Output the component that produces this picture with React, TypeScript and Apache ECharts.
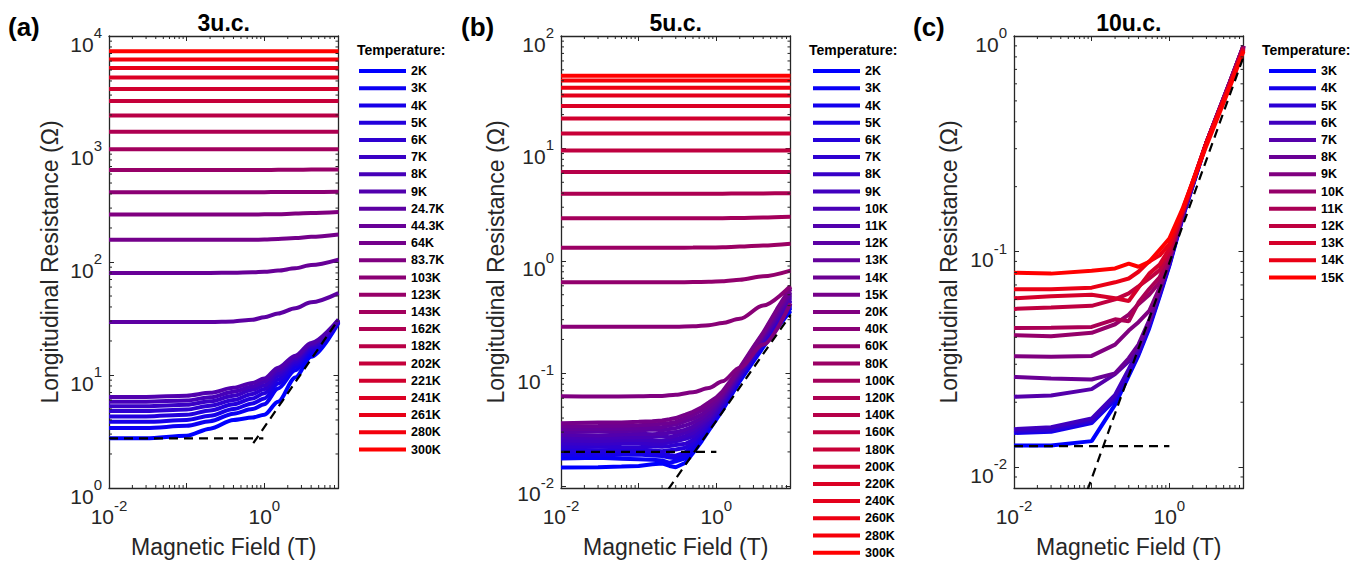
import React, { useEffect, useRef } from 'react';
import * as echarts from 'echarts';

const FONT = '"Liberation Sans", Arial, Helvetica, sans-serif';
const AXIS_COLOR = '#262626';

// ---------- Panel (a) 3u.c. ----------
const fieldA = [0.01, 0.03, 0.1, 0.2, 0.4, 0.7, 1, 1.5, 2.5, 4, 9];
const tempsA = ['2K', '3K', '4K', '5K', '6K', '7K', '8K', '9K', '24.7K', '44.3K', '64K', '83.7K', '103K', '123K', '143K', '162K', '182K', '202K', '221K', '241K', '261K', '280K', '300K'];
const resA = [
  [2.75, 2.75, 2.9, 3.35, 4.0, 4.2, 4.45, 5.8, 9.5, 14.5, 29],
  [3.4, 3.4, 3.55, 3.9, 4.55, 5.0, 5.5, 7.6, 11, 15.5, 29.5],
  [3.85, 3.85, 4.0, 4.35, 5.0, 5.6, 6.2, 8.4, 11.8, 16.3, 30],
  [4.3, 4.3, 4.45, 4.85, 5.5, 6.2, 6.9, 9.1, 12.5, 17, 30],
  [4.8, 4.8, 4.95, 5.35, 6.0, 6.8, 7.5, 9.8, 13.1, 17.6, 30],
  [5.3, 5.3, 5.45, 5.85, 6.55, 7.4, 8.1, 10.4, 13.7, 18.2, 30.5],
  [5.8, 5.8, 5.95, 6.35, 7.1, 7.9, 8.7, 11, 14.2, 18.7, 30.5],
  [6.4, 6.4, 6.55, 6.95, 7.7, 8.5, 9.3, 11.6, 14.8, 19.2, 31],
  [29.4, 29.4, 29.4, 29.5, 29.8, 30.8, 32.5, 35, 39, 44, 53],
  [80, 80, 80, 80, 80.3, 81, 82, 84, 88, 94, 105],
  [157, 157, 157, 157, 157, 157.5, 158, 160, 163, 167, 175],
  [263, 263, 263, 263, 263, 263.5, 264, 265, 268, 271, 277],
  [415, 415, 415, 415, 415, 415, 415, 416, 416, 417, 418],
  [652, 652, 652, 652, 652, 652, 653, 654, 655, 657, 660],
  [993, 993, 993, 993, 993, 993, 993, 993, 993, 993, 993],
  [1420, 1420, 1420, 1420, 1420, 1420, 1420, 1420, 1420, 1420, 1420],
  [1980, 1980, 1980, 1980, 1980, 1980, 1980, 1980, 1980, 1980, 1980],
  [2660, 2660, 2660, 2660, 2660, 2660, 2660, 2660, 2660, 2660, 2660],
  [3400, 3400, 3400, 3400, 3400, 3400, 3400, 3400, 3400, 3400, 3400],
  [4290, 4290, 4290, 4290, 4290, 4290, 4290, 4290, 4290, 4290, 4290],
  [5210, 5210, 5210, 5210, 5210, 5210, 5210, 5210, 5210, 5210, 5210],
  [6210, 6210, 6210, 6210, 6210, 6210, 6210, 6210, 6210, 6210, 6210],
  [7340, 7340, 7340, 7340, 7340, 7340, 7340, 7340, 7340, 7340, 7340],
];
const dashA = [
  { field: [0.01, 0.97], res: [2.75, 2.75] },
  { field: [0.72, 9], res: [2.49, 31] },
];

// ---------- Panel (b) 5u.c. ----------
const tempsB = ['2K', '3K', '4K', '5K', '6K', '7K', '8K', '9K', '10K', '11K', '12K', '13K', '14K', '15K', '20K', '40K', '60K', '80K', '100K', '120K', '140K', '160K', '180K', '200K', '220K', '240K', '260K', '280K', '300K'];
// 2K .. 15K (noisy low-temperature curves)
const fieldBLow = [0.01, 0.03, 0.06, 0.1, 0.15, 0.2, 0.25, 0.3, 0.4, 0.5, 0.65, 0.8, 1, 1.2, 1.6, 2, 3, 4, 6, 9];
const resBLow = [
  [0.0145, 0.0146, 0.0148, 0.015, 0.0155, 0.0158, 0.015, 0.0146, 0.016, 0.0195, 0.025, 0.031, 0.039, 0.047, 0.066, 0.085, 0.128, 0.17, 0.25, 0.36],
  [0.0175, 0.0177, 0.0174, 0.0172, 0.017, 0.0168, 0.016, 0.0165, 0.0175, 0.0205, 0.026, 0.032, 0.04, 0.048, 0.067, 0.087, 0.131, 0.175, 0.26, 0.38],
  [0.0188, 0.0186, 0.0189, 0.019, 0.0186, 0.0184, 0.0178, 0.0176, 0.0185, 0.0215, 0.027, 0.033, 0.041, 0.049, 0.068, 0.089, 0.134, 0.18, 0.265, 0.39],
  [0.0198, 0.0197, 0.0199, 0.02, 0.0195, 0.0192, 0.0188, 0.0185, 0.0198, 0.0225, 0.028, 0.034, 0.042, 0.05, 0.07, 0.09, 0.136, 0.182, 0.27, 0.4],
  [0.021, 0.0207, 0.0209, 0.0211, 0.0206, 0.0203, 0.0207, 0.021, 0.0218, 0.024, 0.029, 0.035, 0.043, 0.051, 0.071, 0.092, 0.139, 0.186, 0.28, 0.41],
  [0.0222, 0.0223, 0.0221, 0.022, 0.0224, 0.0222, 0.0226, 0.023, 0.0236, 0.0255, 0.03, 0.036, 0.044, 0.053, 0.073, 0.094, 0.142, 0.19, 0.285, 0.42],
  [0.0238, 0.0236, 0.0239, 0.024, 0.0235, 0.0236, 0.0244, 0.0248, 0.0262, 0.0275, 0.032, 0.037, 0.045, 0.055, 0.075, 0.096, 0.145, 0.195, 0.295, 0.44],
  [0.0253, 0.025, 0.0254, 0.0256, 0.0252, 0.0251, 0.0258, 0.026, 0.0278, 0.0295, 0.034, 0.039, 0.047, 0.056, 0.077, 0.098, 0.148, 0.2, 0.3, 0.45],
  [0.0268, 0.0266, 0.0268, 0.027, 0.0272, 0.0276, 0.027, 0.028, 0.0298, 0.0315, 0.036, 0.04, 0.049, 0.058, 0.079, 0.1, 0.152, 0.205, 0.31, 0.47],
  [0.0284, 0.028, 0.0286, 0.029, 0.0287, 0.029, 0.0296, 0.03, 0.0315, 0.0335, 0.038, 0.042, 0.051, 0.06, 0.081, 0.103, 0.156, 0.21, 0.32, 0.49],
  [0.03, 0.0304, 0.0306, 0.031, 0.0316, 0.0312, 0.032, 0.0325, 0.0345, 0.0365, 0.04, 0.045, 0.053, 0.062, 0.083, 0.105, 0.16, 0.215, 0.33, 0.51],
  [0.0318, 0.032, 0.0322, 0.0325, 0.0328, 0.0332, 0.0345, 0.035, 0.0375, 0.0395, 0.043, 0.048, 0.055, 0.064, 0.085, 0.108, 0.164, 0.22, 0.345, 0.53],
  [0.0338, 0.034, 0.0342, 0.0345, 0.035, 0.0356, 0.0362, 0.037, 0.04, 0.0425, 0.047, 0.051, 0.058, 0.066, 0.087, 0.11, 0.168, 0.225, 0.36, 0.56],
  [0.036, 0.0365, 0.0366, 0.037, 0.0374, 0.038, 0.039, 0.04, 0.043, 0.0455, 0.05, 0.055, 0.061, 0.069, 0.09, 0.112, 0.172, 0.23, 0.37, 0.58],
];
// 20K .. 300K
const fieldBHigh = [0.01, 0.03, 0.1, 0.2, 0.3, 0.5, 0.8, 1.2, 2, 4, 9];
const resBHigh = [
  [0.0625, 0.0622, 0.0625, 0.063, 0.0645, 0.068, 0.074, 0.085, 0.112, 0.18, 0.42],
  [0.259, 0.259, 0.259, 0.259, 0.26, 0.262, 0.268, 0.28, 0.305, 0.4, 0.6],
  [0.645, 0.645, 0.645, 0.645, 0.646, 0.648, 0.652, 0.66, 0.68, 0.73, 0.82],
  [1.31, 1.31, 1.31, 1.31, 1.31, 1.312, 1.315, 1.32, 1.34, 1.37, 1.42],
  [2.39, 2.39, 2.39, 2.39, 2.39, 2.39, 2.39, 2.4, 2.41, 2.43, 2.47],
  [3.95, 3.95, 3.95, 3.95, 3.95, 3.95, 3.95, 3.96, 3.97, 3.98, 4.0],
  [6.18, 6.18, 6.18, 6.18, 6.18, 6.18, 6.18, 6.18, 6.18, 6.18, 6.18],
  [9.6, 9.6, 9.6, 9.6, 9.6, 9.6, 9.6, 9.6, 9.6, 9.6, 9.6],
  [13.6, 13.6, 13.6, 13.6, 13.6, 13.6, 13.6, 13.6, 13.6, 13.6, 13.6],
  [18.5, 18.5, 18.5, 18.5, 18.5, 18.5, 18.5, 18.5, 18.5, 18.5, 18.5],
  [23.9, 23.9, 23.9, 23.9, 23.9, 23.9, 23.9, 23.9, 23.9, 23.9, 23.9],
  [29.5, 29.5, 29.5, 29.5, 29.5, 29.5, 29.5, 29.5, 29.5, 29.5, 29.5],
  [34.7, 34.7, 34.7, 34.7, 34.7, 34.7, 34.7, 34.7, 34.7, 34.7, 34.7],
  [40.2, 40.2, 40.2, 40.2, 40.2, 40.2, 40.2, 40.2, 40.2, 40.2, 40.2],
  [44.2, 44.2, 44.2, 44.2, 44.2, 44.2, 44.2, 44.2, 44.2, 44.2, 44.2],
];
const dashB = [
  { field: [0.01, 1.0], res: [0.02, 0.02] },
  { field: [0.24, 9], res: [0.0093, 0.33] },
];

// ---------- Panel (c) 10u.c. ----------
const fieldC = [0.01, 0.03, 0.1, 0.2, 0.3, 0.4, 0.55, 0.75, 1, 1.5, 3, 6, 9];
const tempsC = ['3K', '4K', '5K', '6K', '7K', '8K', '9K', '10K', '11K', '12K', '13K', '14K', '15K'];
const resC = [
  [0.0126, 0.0126, 0.0132, 0.0195, 0.0265, 0.033, 0.044, 0.062, 0.086, 0.145, 0.32, 0.6, 0.88],
  [0.0144, 0.0146, 0.016, 0.0205, 0.0272, 0.0335, 0.045, 0.063, 0.087, 0.147, 0.32, 0.6, 0.89],
  [0.0147, 0.0149, 0.0164, 0.021, 0.0278, 0.034, 0.046, 0.064, 0.088, 0.148, 0.32, 0.6, 0.89],
  [0.015, 0.0153, 0.0168, 0.0216, 0.0285, 0.035, 0.0465, 0.065, 0.089, 0.149, 0.32, 0.61, 0.9],
  [0.0212, 0.0215, 0.023, 0.027, 0.031, 0.036, 0.047, 0.066, 0.09, 0.15, 0.32, 0.61, 0.9],
  [0.0262, 0.0258, 0.0255, 0.0272, 0.032, 0.037, 0.048, 0.067, 0.091, 0.151, 0.32, 0.61, 0.9],
  [0.0327, 0.0325, 0.0328, 0.037, 0.043, 0.047, 0.053, 0.068, 0.092, 0.152, 0.32, 0.61, 0.9],
  [0.0409, 0.0405, 0.042, 0.046, 0.051, 0.057, 0.063, 0.072, 0.094, 0.153, 0.32, 0.61, 0.9],
  [0.0442, 0.0443, 0.0447, 0.0485, 0.0475, 0.058, 0.067, 0.076, 0.096, 0.154, 0.32, 0.6, 0.89],
  [0.0542, 0.055, 0.056, 0.06, 0.064, 0.069, 0.075, 0.082, 0.099, 0.155, 0.32, 0.6, 0.88],
  [0.0607, 0.062, 0.063, 0.0607, 0.059, 0.068, 0.079, 0.087, 0.103, 0.156, 0.32, 0.59, 0.87],
  [0.0668, 0.0668, 0.068, 0.072, 0.075, 0.0806, 0.09, 0.096, 0.108, 0.158, 0.32, 0.59, 0.86],
  [0.0797, 0.079, 0.0815, 0.0835, 0.088, 0.085, 0.0896, 0.102, 0.115, 0.16, 0.31, 0.58, 0.85],
];
const dashC = [
  { field: [0.01, 1.0], res: [0.0125, 0.0125] },
  { field: [0.088, 9], res: [0.0078, 0.8] },
];

// ---------- Tick values ----------
const minorTicksX = [0.02, 0.03, 0.04, 0.05, 0.06, 0.07, 0.08, 0.09, 0.2, 0.3, 0.4, 0.5, 0.6, 0.7, 0.8, 0.9, 2, 3, 4, 5, 6, 7, 8];
const minorTicksYA = [2, 3, 4, 5, 6, 7, 8, 9, 20, 30, 40, 50, 60, 70, 80, 90, 200, 300, 400, 500, 600, 700, 800, 900, 2000, 3000, 4000, 5000, 6000, 7000, 8000, 9000];
const minorTicksYB = [0.02, 0.03, 0.04, 0.05, 0.06, 0.07, 0.08, 0.09, 0.2, 0.3, 0.4, 0.5, 0.6, 0.7, 0.8, 0.9, 2, 3, 4, 5, 6, 7, 8, 9, 20, 30, 40, 50, 60, 70, 80, 90];
const minorTicksYC = [0.009, 0.02, 0.03, 0.04, 0.05, 0.06, 0.07, 0.08, 0.09, 0.2, 0.3, 0.4, 0.5, 0.6, 0.7, 0.8, 0.9];

const panels = [
  { key: 'a', tag: '(a)', title: '3u.c.', temps: tempsA, groups: [{ field: fieldA, res: resA, smooth: true }], dash: dashA,
    yMin: 1, yMax: 10000, minorY: minorTicksYA, left: 109, nameGap: 48, legendLeft: 359, tempTitleX: 357, tagX: 8 },
  { key: 'b', tag: '(b)', title: '5u.c.', temps: tempsB, groups: [{ field: fieldBLow, res: resBLow, smooth: false }, { field: fieldBHigh, res: resBHigh, smooth: true }], dash: dashB,
    yMin: 0.00955, yMax: 100, minorY: minorTicksYB, left: 561, nameGap: 54, legendLeft: 813, tempTitleX: 809, tagX: 461 },
  { key: 'c', tag: '(c)', title: '10u.c.', temps: tempsC, groups: [{ field: fieldC, res: resC, smooth: false }], dash: dashC,
    yMin: 0.008, yMax: 1, minorY: minorTicksYC, left: 1014, nameGap: 54, legendLeft: 1269, tempTitleX: 1262, tagX: 913 },
];

const GRID_TOP = 36;
const GRID_W = 229.5;
const GRID_H = 455;

function colorAt(i: number, n: number) {
  const t = n > 1 ? i / (n - 1) : 0;
  return `rgb(${Math.round(255 * t)},0,${Math.round(255 * (1 - t))})`;
}

function expFormatter(onlyEven: boolean) {
  return (v: number) => {
    const e = Math.log10(v);
    const r = Math.round(e);
    if (Math.abs(e - r) > 1e-6) return '';
    if (onlyEven && r % 2 !== 0) return '';
    return `{b|10}{s|${r}}`;
  };
}

const rich = {
  b: { fontSize: 21, lineHeight: 21, fontFamily: FONT, color: AXIS_COLOR, padding: [16, 0, 0, 0] },
  s: { fontSize: 15, lineHeight: 15, fontFamily: FONT, color: AXIS_COLOR, padding: [0, 0, 7, 0] },
};

function buildOption() {
  const grid: any[] = [];
  const xAxis: any[] = [];
  const yAxis: any[] = [];
  const series: any[] = [];
  const legend: any[] = [];
  const graphic: any[] = [];

  const axisLine = { show: true, onZero: false, lineStyle: { color: AXIS_COLOR, width: 1.3 } };
  const axisTick = { show: true, inside: true, length: 5, lineStyle: { color: AXIS_COLOR, width: 1 } };

  panels.forEach((p, pi) => {
    grid.push({ left: p.left, top: GRID_TOP, width: GRID_W, height: GRID_H, containLabel: false });
    xAxis.push({
      gridIndex: pi, type: 'log', logBase: 10, position: 'bottom', min: 0.01, max: 9,
      axisLine, axisTick, splitLine: { show: false },
      axisLabel: { show: true, margin: 10, formatter: expFormatter(true), rich },
      name: 'Magnetic Field (T)', nameLocation: 'middle', nameGap: 47,
      nameTextStyle: { fontFamily: FONT, fontSize: 23, color: AXIS_COLOR },
    });
    xAxis.push({
      gridIndex: pi, type: 'log', logBase: 10, position: 'top', min: 0.01, max: 9,
      axisLine, axisTick, splitLine: { show: false }, axisLabel: { show: false },
    });
    yAxis.push({
      gridIndex: pi, type: 'log', logBase: 10, position: 'left', min: p.yMin, max: p.yMax,
      axisLine, axisTick, splitLine: { show: false },
      axisLabel: { show: true, margin: 7, formatter: expFormatter(false), rich },
      name: 'Longitudinal Resistance (Ω)', nameLocation: 'middle', nameGap: p.nameGap,
      nameTextStyle: { fontFamily: FONT, fontSize: 23, color: AXIS_COLOR },
    });
    yAxis.push({
      gridIndex: pi, type: 'log', logBase: 10, position: 'right', min: p.yMin, max: p.yMax,
      axisLine, axisTick, splitLine: { show: false }, axisLabel: { show: false },
    });

    const xi = 2 * pi;
    let idx = 0;
    p.groups.forEach((g) => {
      g.res.forEach((row) => {
        const i = idx++;
        const t = p.temps[i];
        const c = colorAt(i, p.temps.length);
        series.push({
          type: 'line', name: `${p.key}:${t}`, xAxisIndex: xi, yAxisIndex: xi,
          data: g.field.map((x, k) => [x, row[k]]),
          showSymbol: false, symbol: 'none',
          smooth: g.smooth ? 0.3 : false, smoothMonotone: 'x',
          color: c, itemStyle: { color: c }, lineStyle: { color: c, width: 4 },
          silent: true, z: 2,
        });
      });
    });
    p.dash.forEach((d, di) => {
      series.push({
        type: 'line', name: `${p.key}-guide${di}`, xAxisIndex: xi, yAxisIndex: xi,
        data: d.field.map((x, k) => [x, d.res[k]]),
        showSymbol: false, symbol: 'none', silent: true, z: 3,
        lineStyle: { color: '#000', width: 2.2, type: [9, 6] },
      });
    });
    // minor ticks (MATLAB-style 2..9 per decade), on both opposite edges
    series.push({
      type: 'custom', name: `${p.key}-minorx`, xAxisIndex: xi, yAxisIndex: xi, silent: true, z: 4, clip: false,
      data: minorTicksX.map((v) => [v, p.yMax]),
      renderItem: (params: any, api: any) => {
        const pt = api.coord([api.value(0), api.value(1)]);
        const cs = params.coordSys;
        const st = { stroke: AXIS_COLOR, lineWidth: 1 };
        return {
          type: 'group', children: [
            { type: 'line', shape: { x1: pt[0], y1: cs.y + cs.height, x2: pt[0], y2: cs.y + cs.height - 3 }, style: st },
            { type: 'line', shape: { x1: pt[0], y1: cs.y, x2: pt[0], y2: cs.y + 3 }, style: st },
          ],
        };
      },
    });
    series.push({
      type: 'custom', name: `${p.key}-minory`, xAxisIndex: xi, yAxisIndex: xi, silent: true, z: 4, clip: false,
      data: p.minorY.map((v) => [1, v]),
      renderItem: (params: any, api: any) => {
        const pt = api.coord([api.value(0), api.value(1)]);
        const cs = params.coordSys;
        const st = { stroke: AXIS_COLOR, lineWidth: 1 };
        return {
          type: 'group', children: [
            { type: 'line', shape: { x1: cs.x, y1: pt[1], x2: cs.x + 3, y2: pt[1] }, style: st },
            { type: 'line', shape: { x1: cs.x + cs.width, y1: pt[1], x2: cs.x + cs.width - 3, y2: pt[1] }, style: st },
          ],
        };
      },
    });

    legend.push({
      orient: 'vertical', left: p.legendLeft, top: 64.6, padding: 0, itemGap: 4.2,
      itemWidth: 47, itemHeight: 4, icon: 'rect', selectedMode: false,
      data: p.temps.map((t) => `${p.key}:${t}`),
      formatter: (n: string) => n.slice(2),
      textStyle: { fontFamily: FONT, fontSize: 12.5, fontWeight: 'bold', color: '#000', lineHeight: 13 },
    });

    graphic.push({
      type: 'text', x: p.left + GRID_W / 2, y: 23, silent: true,
      style: { text: p.title, fontFamily: FONT, fontSize: 23, fontWeight: 'bold', fill: '#000', align: 'center', verticalAlign: 'middle' },
    });
    graphic.push({
      type: 'text', x: p.tagX, y: 27, silent: true,
      style: { text: p.tag, fontFamily: FONT, fontSize: 26, fontWeight: 'bold', fill: '#000', align: 'left', verticalAlign: 'middle' },
    });
    graphic.push({
      type: 'text', x: p.tempTitleX, y: 49.6, silent: true,
      style: { text: 'Temperature:', fontFamily: FONT, fontSize: 14, fontWeight: 'bold', fill: '#000', align: 'left', verticalAlign: 'middle' },
    });
  });

  return {
    animation: false,
    backgroundColor: '#ffffff',
    grid, xAxis, yAxis, series, legend, graphic,
  };
}

export default function App() {
  const ref = useRef<HTMLDivElement>(null);
  useEffect(() => {
    if (!ref.current) return;
    const chart = echarts.init(ref.current, null, { renderer: 'svg' });
    chart.setOption(buildOption() as any);
    return () => chart.dispose();
  }, []);
  return (
    <div
      ref={ref}
      style={{ position: 'absolute', left: 0, top: 0, width: 1371, height: 563, background: '#fff' }}
    />
  );
}
